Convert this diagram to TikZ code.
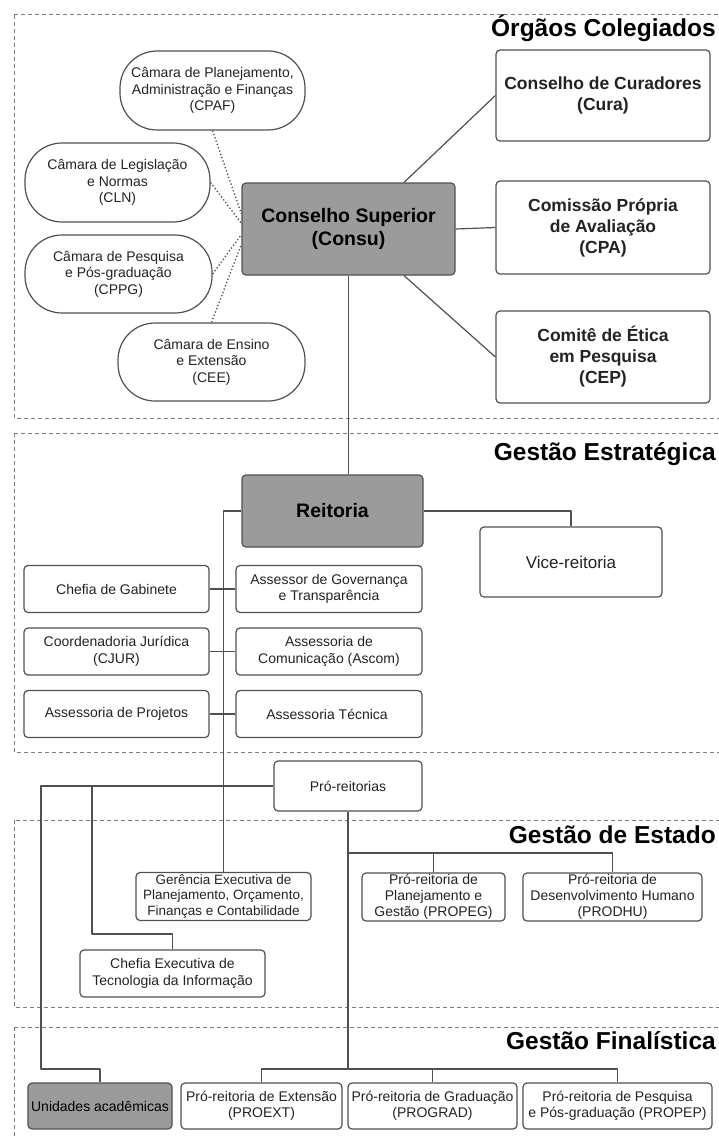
\documentclass[tikz,border=0pt]{standalone}
\usepackage{fontspec}
\setmainfont{Liberation Sans}
\usepackage{xcolor}
\definecolor{orgline}{RGB}{80,80,80}
\definecolor{orgfill}{RGB}{155,155,155}
\definecolor{orgdash}{RGB}{125,125,125}
\definecolor{orgtext}{RGB}{35,35,35}

\tikzset{
  unitbox/.style={draw=orgline,line width=1.2pt,rounded corners=4pt,fill=white,
    align=center,inner sep=1pt,text=orgtext,font=\fontsize{14}{16.5}\selectfont},
  boardbox/.style={unitbox,font=\fontsize{17.5}{21}\selectfont\bfseries},
  headbox/.style={unitbox,fill=orgfill,text=black,font=\fontsize{19.5}{23}\selectfont\bfseries},
  chamber/.style={unitbox,rounded corners=37pt},
  boxsize/.style 2 args={minimum width=#1pt,minimum height=#2pt},
  sector/.style={draw=orgdash,line width=1pt,dash pattern=on 4pt off 3pt},
  sectitle/.style={anchor=base east,inner sep=0pt,font=\fontsize{24.5}{28}\selectfont\bfseries},
  link/.style={draw=orgline,line width=1.2pt},
  sublink/.style={draw=orgline,line width=1.3pt,dash pattern=on 1.3pt off 2.2pt}
}

\begin{document}
\begin{tikzpicture}[x=1pt,y=-1pt,line join=round]
  \useasboundingbox[fill=white] (0,0) rectangle (718,1137);

  \draw[sector] (14,15) rectangle (726,418);
  \draw[sector] (14,433) rectangle (726,752);
  \draw[sector] (14,820) rectangle (726,1007);
  \draw[sector] (14,1027) rectangle (726,1150);
  \node[sectitle] (tcol) at (716,37) {Órgãos Colegiados};
  \node[sectitle] (test) at (716,460) {Gestão Estratégica};
  \node[sectitle] (tstate) at (716,843) {Gestão de Estado};
  \node[sectitle] (tfin) at (716,1049) {Gestão Finalística};

  % orgaos colegiados
  \node[headbox,boxsize={213}{92}] (consu) at (348.5,229) {Conselho Superior\\(Consu)};
  \node[boardbox,boxsize={214}{91}] (cura) at (603,95.5) {Conselho de Curadores\\(Cura)};
  \node[boardbox,boxsize={214}{93}] (cpa) at (603,227.5) {Comissão Própria\\de Avaliação\\(CPA)};
  \node[boardbox,boxsize={214}{92}] (cep) at (603,357) {Comitê de Ética\\em Pesquisa\\(CEP)};

  \node[chamber,boxsize={185}{79}] (cpaf) at (212.5,90.5) {Câmara de Planejamento,\\Administração e Finanças\\(CPAF)};
  \node[chamber,boxsize={185}{79}] (cln) at (117.5,182.5) {Câmara de Legislação\\e Normas\\(CLN)};
  \node[chamber,boxsize={187}{78}] (cppg) at (118.5,274) {Câmara de Pesquisa\\e Pós-graduação\\(CPPG)};
  \node[chamber,boxsize={187}{78}] (cee) at (211.5,362) {Câmara de Ensino\\e Extensão\\(CEE)};

  \draw[link] (consu.40) -- (cura.west);
  \draw[link] (consu.east) -- (cpa.west);
  \draw[link] (consu.-40) -- (cep.west);
  \draw[sublink] (cpaf.south) -- (consu.172);
  \draw[sublink] (cln.east) -- (consu.177);
  \draw[sublink] (cppg.east) -- (consu.183);
  \draw[sublink] (cee.north) -- (consu.188);

  % gestao estrategica
  \node[headbox,boxsize={181}{72}] (reit) at (332.5,511) {Reitoria};
  \node[unitbox,boxsize={182}{70},font=\fontsize{17}{20}\selectfont] (vice) at (571,562) {Vice-reitoria};
  \foreach \row/\ypos/\ltxt/\rtxt in {
    1/589/{Chefia de Gabinete}/{Assessor de Governança\\e Transparência},
    2/651.5/{Coordenadoria Jurídica\\(CJUR)}/{Assessoria de\\Comunicação (Ascom)},
    3/714/{Assessoria de Projetos}/{Assessoria Técnica}
  } {
    \node[unitbox,boxsize={185}{47}] (asl\row) at (116.5,\ypos) {\ltxt};
    \node[unitbox,boxsize={186}{47}] (asr\row) at (329,\ypos) {\rtxt};
    \draw[link] (asl\row.east) -- (asr\row.west);
  }

  \node[unitbox,boxsize={148}{50}] (pror) at (348,786) {Pró-reitorias};

  \draw[link] (consu.south) -- (consu.south |- reit.north);
  \draw[link] (reit.east) -| (vice.north);

  % gestao de estado
  \node[unitbox,boxsize={175}{48},font=\fontsize{13.5}{15.8}\selectfont] (gefin) at (223.5,896.5)
    {Gerência Executiva de\\Planejamento, Orçamento,\\Finanças e Contabilidade};
  \node[unitbox,boxsize={185}{47}] (cti) at (172.5,973.5) {Chefia Executiva de\\Tecnologia da Informação};
  \node[unitbox,boxsize={143}{48},font=\fontsize{14}{15.8}\selectfont] (propeg) at (433.5,897)
    {Pró-reitoria de\\Planejamento e\\Gestão (PROPEG)};
  \node[unitbox,boxsize={179}{48},font=\fontsize{14}{15.8}\selectfont] (prodhu) at (612.5,897)
    {Pró-reitoria de\\Desenvolvimento Humano\\(PRODHU)};

  % gestao finalistica
  \node[unitbox,fill=orgfill,text=black,boxsize={144}{46}] (unac) at (100,1106) {Unidades acadêmicas};
  \node[unitbox,boxsize={161}{46}] (proext) at (261.5,1106) {Pró-reitoria de Extensão\\(PROEXT)};
  \node[unitbox,boxsize={169}{46}] (prograd) at (432.5,1106) {Pró-reitoria de Graduação\\(PROGRAD)};
  \node[unitbox,boxsize={189}{46}] (propep) at (617.5,1106) {Pró-reitoria de Pesquisa\\e Pós-graduação (PROPEP)};

  \coordinate (uaturn) at (41,1069);
  \coordinate (titurn) at (92,934);
  \coordinate (estbar) at (348,853);
  \coordinate (finbar) at (348,1069);

  \draw[link] (reit.west) -| (gefin.north);
  \draw[link] (pror.west) -| (uaturn) -| (unac.north);
  \draw[link] (pror.west -| titurn) -- (titurn) -| (cti.north);
  \draw[link] (pror.south) -- (finbar);
  \draw[link] (estbar) -| (prodhu.north);
  \draw[link] (propeg.north) -- (propeg.north |- estbar);
  \draw[link] (proext.north) |- (propep.north |- finbar) -- (propep.north);
  \draw[link] (prograd.north) -- (prograd.north |- finbar);
\end{tikzpicture}
\end{document}
